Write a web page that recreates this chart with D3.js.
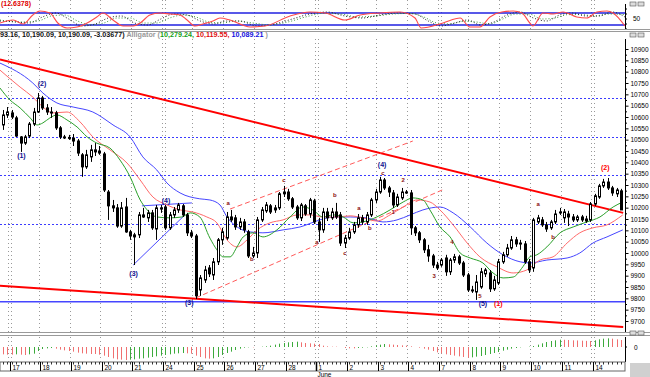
<!DOCTYPE html>
<html>
<head>
<meta charset="utf-8">
<script src="https://cdnjs.cloudflare.com/ajax/libs/d3/7.8.5/d3.min.js"></script>
<style>
  body { margin: 0; background: #fff; }
  svg { display: block; font-family: "Liberation Sans", Arial, sans-serif; }
</style>
</head>
<body>
<svg id="chart" width="650" height="377"></svg>
<script>
// hourly bars, May 14 (last two) .. June 14
var opens = [10565,10609,10618,10596,10512,10485,10516,10569,10622,10684,
  10640,10622,10618,10552,10512,10510,10507,10494,10433,10380,
  10424,10446,10450,10437,10269,10208,10199,10119,10203,10093,
  10071,10080,10168,10155,10177,10106,10199,10203,10111,10168,
  10190,10208,10168,10089,10075,9837,9881,9934,9903,9961,
  10058,10066,10159,10155,10115,10137,10093,9987,10000,10146,
  10186,10208,10190,10199,10261,10269,10239,10203,10155,10208,
  10172,10230,10137,10102,10181,10155,10181,10168,10044,10066,
  10093,10124,10155,10137,10168,10234,10269,10322,10287,10265,
  10212,10243,10269,10265,10111,10089,10058,10014,9987,9947,
  9947,9978,9917,9969,9983,9956,9903,9837,9828,9850,
  9908,9912,9842,9868,9961,9992,10022,10058,10040,10040,
  9961,9934,10137,10146,10124,10111,10137,10177,10155,10172,
  10159,10146,10159,10150,10146,10216,10247,10296,10313,10287,
  10261,10274];
var highs = [10631,10644,10631,10605,10516,10521,10578,10640,10706,10693,
  10657,10644,10627,10560,10521,10521,10525,10503,10441,10455,
  10477,10485,10472,10446,10278,10234,10216,10225,10243,10102,
  10089,10181,10199,10190,10190,10212,10212,10212,10181,10203,
  10221,10216,10177,10102,10084,9903,9943,9947,9978,10066,
  10111,10181,10190,10168,10155,10150,10102,10027,10159,10203,
  10225,10216,10212,10269,10296,10283,10247,10212,10221,10216,
  10243,10239,10155,10199,10199,10199,10221,10181,10080,10111,
  10137,10172,10168,10181,10243,10283,10336,10331,10296,10278,
  10261,10287,10278,10278,10119,10097,10066,10036,9996,9961,
  9978,9992,9978,9996,9992,9965,9912,9855,9903,9934,
  9934,9925,9899,9974,10005,10040,10075,10071,10058,10053,
  9974,10155,10168,10159,10137,10146,10190,10199,10194,10186,
  10172,10168,10168,10164,10225,10261,10305,10327,10331,10296,
  10287,10283];
var lows = [10543,10596,10591,10512,10446,10477,10507,10560,10618,10631,
  10609,10596,10543,10503,10503,10499,10472,10428,10336,10371,
  10402,10428,10433,10269,10146,10181,10111,10111,10089,10058,
  9947,10066,10155,10137,10102,10058,10177,10102,10102,10155,
  10177,10159,10075,10066,9797,9811,9868,9894,9881,9947,
  10036,10058,10137,10102,10102,10089,9978,9978,9978,10137,
  10177,10172,10177,10190,10247,10230,10194,10146,10141,10164,
  10155,10128,10049,10089,10141,10146,10150,10031,10022,10058,
  10084,10111,10124,10124,10159,10221,10261,10278,10247,10199,
  10203,10234,10261,10080,10075,10044,10000,9961,9934,9925,
  9939,9899,9903,9956,9947,9894,9828,9824,9793,9842,
  9894,9828,9833,9859,9952,9983,10014,10027,10014,9952,
  9912,9917,10128,10115,10093,10102,10128,10168,10133,10119,
  10137,10137,10137,10133,10137,10208,10239,10287,10278,10252,
  10247,10194];
var closes = [10609,10622,10600,10516,10485,10512,10569,10622,10684,10640,
  10622,10618,10552,10512,10510,10507,10494,10441,10380,10433,
  10455,10455,10441,10278,10208,10199,10119,10199,10093,10075,
  10080,10168,10159,10177,10111,10199,10194,10111,10168,10190,
  10212,10168,10089,10075,9811,9890,9925,9908,9961,10058,
  10093,10159,10146,10115,10137,10102,9987,10000,10146,10190,
  10212,10181,10199,10261,10269,10239,10203,10155,10212,10172,
  10234,10137,10102,10181,10155,10181,10159,10044,10066,10093,
  10124,10155,10137,10168,10234,10269,10322,10287,10269,10212,
  10247,10269,10265,10111,10089,10058,10014,9987,9947,9934,
  9969,9917,9969,9983,9956,9903,9837,9835,9872,9917,
  9925,9842,9881,9961,9992,10022,10058,10040,10044,9961,
  9925,10146,10155,10124,10106,10137,10172,10181,10181,10159,
  10146,10159,10146,10141,10216,10252,10296,10313,10287,10265,
  10278,10190];

// alligator lines, [bar, price]
var jaw = [[-0.7,10838],[6.8,10750],[9.1,10706],[12.3,10662],[16,10644],[20.5,10622],[25.1,10565],
  [29,10512],[31.9,10424],[35.1,10366],[37.4,10309],[40.4,10265],[44.9,10239],[47.2,10234],[49.5,10212],
  [51.1,10159],[53.4,10115],[56.4,10093],[59.3,10089],[63.9,10102],[67.8,10115],[72.3,10146],[75.3,10159],
  [79.2,10159],[83,10155],[86.7,10137],[89.9,10146],[92.9,10168],[95.8,10190],[99.7,10203],[102.7,10177],
  [106.6,10115],[110.4,10044],[114.1,9992],[118,9961],[120.2,9956],[124.1,9969],[128.7,9978],[131.6,10000],
  [134.6,10044],[137.8,10071],[141.4,10102]];
var teeth = [[-0.7,10807],[3.9,10732],[6.8,10688],[9.1,10644],[11.4,10618],[14.6,10622],[17.6,10578],
  [20.5,10512],[24.4,10455],[28.3,10397],[31.3,10322],[34.2,10247],[37.4,10212],[40.4,10190],[43.3,10181],
  [46.5,10159],[48.8,10133],[51.1,10058],[53.4,10027],[55.7,10058],[58,10102],[60.9,10133],[63.9,10146],
  [67.1,10168],[70,10168],[73,10159],[76.2,10159],[79.2,10164],[82.1,10155],[85.3,10141],[88.3,10168],
  [91.3,10203],[94.5,10234],[97.4,10225],[99.7,10190],[102.7,10124],[105.9,10044],[108.8,9983],[112.7,9939],
  [116.4,9912],[119.5,9925],[122.5,9969],[125.5,9983],[128.7,10044],[131.6,10089],[134.6,10111],
  [137.8,10124],[141.4,10168]];
var lips = [[-0.7,10728],[1.6,10675],[3.9,10640],[6.2,10596],[7.8,10565],[9.1,10574],[10.7,10596],
  [12.3,10609],[14.6,10587],[16.9,10556],[19.2,10512],[21.4,10485],[24.4,10463],[26.7,10410],[29,10336],
  [31.3,10234],[32.9,10190],[35.1,10159],[38.1,10155],[40.8,10159],[42.7,10177],[44.9,10159],[47.2,10066],
  [48.8,10014],[50.2,9983],[51.8,9983],[53.4,10027],[54.8,10071],[57,10089],[59.3,10071],[62.5,10102],
  [65.5,10159],[68.4,10203],[70.7,10190],[73,10159],[75.3,10168],[77.6,10159],[79.9,10133],[82.1,10137],
  [85.3,10159],[88.3,10190],[91.3,10225],[93.5,10243],[95.8,10234],[97.4,10190],[99.7,10115],[102,10071],
  [104.3,10000],[106.6,9978],[109.5,9956],[111.8,9912],[114.1,9890],[116.4,9894],[118.6,9939],[120.2,9983],
  [121.8,9992],[124.1,10027],[127.1,10089],[130.1,10115],[133.2,10137],[136.2,10159],[139.2,10203],
  [141.4,10225]];

// top oscillator, [bar, value]
var oscMain = [[-0.7,30],[2.3,45],[4.6,25],[6.8,70],[8.4,90],[10.7,80],[12.5,30],[14.6,5],[16.9,10],
  [19.2,30],[21.4,60],[22.8,80],[25.1,45],[27.4,15],[29.7,15],[31.3,30],[33.5,70],[35.8,80],[38.1,75],
  [40.4,70],[42,45],[43.8,15],[45.6,25],[47.9,40],[49.5,55],[51.8,45],[56.4,10],[59.8,15],[65.5,65],
  [70,85],[73.5,80],[78,45],[81.5,70],[86,80],[90.6,85],[94,55],[95.4,5],[100.4,30],[104.3,55],
  [106.5,10],[108.8,10],[111.1,60],[113.8,85],[116.4,90],[118.4,80],[120.2,30],[120.9,15],[123.2,80],
  [125.5,75],[127.8,85],[130.9,60],[133.2,55],[135.5,85],[137.8,90],[139.2,80],[141.9,15]];
var oscSignal = [[-0.7,40],[3,35],[6,30],[9,60],[12,80],[15,50],[18,15],[21,25],[24,55],[27,65],[30,30],
  [33,20],[36,50],[39,75],[42,70],[45,40],[48,25],[51,40],[54,40],[58,15],[62,25],[66,50],[70,75],[74,85],
  [78,65],[82,55],[86,70],[90,80],[94,75],[97,40],[100,15],[103,30],[106,45],[109,20],[112,35],[115,70],
  [118,85],[121,55],[124,40],[127,70],[130,80],[133,65],[136,65],[139,85],[141.9,60]];
var oscSlow = [[-0.7,45],[4,35],[8,40],[11,65],[14,70],[17,40],[20,20],[23,30],[26,55],[29,55],[32,30],
  [35,30],[38,55],[41,70],[44,60],[47,35],[50,30],[53,40],[57,30],[61,20],[65,35],[69,60],[73,78],[77,75],
  [81,60],[85,65],[89,75],[93,78],[96,60],[99,30],[102,25],[105,38],[108,35],[111,25],[114,50],[117,75],
  [120,75],[123,50],[126,55],[129,72],[132,72],[135,65],[138,75],[141.9,72]];

// bottom histogram, one value per bar
var histo = [-110,-115,-115,-110,-115,-120,-110,-100,-60,-30,
  -20,-15,-25,-40,-50,-60,-70,-85,-95,-100,
  -105,-105,-115,-130,-150,-170,-185,-190,-195,-190,
  -185,-175,-170,-160,-150,-140,-130,-120,-110,-100,
  -95,-90,-95,-100,-130,-150,-170,-175,-170,-150,
  -120,-90,-70,-45,-25,-10,-5,-5,0,5,
  10,20,35,50,60,70,75,80,70,60,
  55,50,45,20,10,5,5,0,-15,-20,
  -20,-15,-10,-5,10,25,35,45,40,35,
  30,25,20,10,0,-10,-25,-40,-60,-80,
  -95,-110,-120,-130,-140,-150,-160,-155,-145,-135,
  -120,-105,-90,-75,-55,-40,-25,-15,-5,0,
  5,15,35,55,75,90,100,110,108,105,
  100,98,95,92,90,100,115,125,130,125,
  115,105];

var dayLabels = ["17","18","19","20","21","24","25","26","27","28","1","2","3","4","7","8","9","10","11","14"];
var weekStarts = ["17","24","1","7","14"];
var priceTicks = d3.range(9700, 10901, 50);
var levelsDotted = [10684, 10512, 10342, 10128];
var levelSolid = 9785;

// trend lines [bar, price]
var trendUpper = [[-0.7,10854],[141.5,10177]];
var trendLower = [[-0.7,9855],[141.5,9674]];
var chanUpper = [[51.8,10194],[93.5,10494]];
var chanLower = [[44,9802],[100.2,10278]];
var triLower = [[29.7,9947],[41.5,10168]];
var triUpper = [[31.7,10208],[43.1,10221]];

// wave counts: [bar, price, text, kind]
var waveLabels = [
  [4.2,10418,"(1)","major"],[8.9,10735,"(2)","major"],[29.8,9900,"(3)","major"],[37.2,10220,"(4)","major"],
  [42.5,9770,"(3)","major"],[86.5,10380,"(4)","major"],[109.5,9765,"(5)","major"],
  [113,9765,"(1)","red"],[137.4,10368,"(2)","red"],
  [51.4,10212,"a","minor"],[56.8,9965,"b","minor"],[64.1,10313,"c","minor"],[71.6,10040,"a","minor"],
  [75.7,10245,"b","minor"],[78,9990,"c","minor"],[81.2,10190,"a","minor"],[83.7,10102,"b","minor"],
  [86.7,10345,"c","minor"],[91.3,10313,"2","minor"],[89,10170,"1","minor"],[98.4,9890,"3","minor"],
  [102.4,10040,"4","minor"],[108.8,9800,"5","minor"],[122.1,10208,"a","minor"],[125.5,10062,"b","minor"]
];

var svg = d3.select("#chart");
var plotR = 625;

var x = d3.scaleLinear().domain([0, 141]).range([3, 621]);
var y = d3.scaleLinear().domain([9700, 10900]).range([321, 49]);
var yOsc = d3.scaleLinear().domain([0, 100]).range([29, 9]);
var yHist = d3.scaleLinear().domain([-225, 180]).range([362, 335]);

// ---- vertical day grid through every panel
var grid = svg.append("g");
dayLabels.forEach(function (d, k) {
  var gx = Math.round(x(1.2 + 7 * k)) + 0.5;
  var xs = weekStarts.indexOf(d) >= 0 ? [gx, gx + 3] : [gx];
  xs.forEach(function (xx) {
    [[0, 29], [39, 332], [337, 362]].forEach(function (seg) {
      grid.append("line").attr("x1", xx).attr("x2", xx).attr("y1", seg[0]).attr("y2", seg[1])
        .attr("stroke", "#999").attr("stroke-dasharray", "1,3");
    });
  });
});

// ---- top oscillator panel
var oscG = svg.append("g");
[80, 20].forEach(function (v) {
  oscG.append("line").attr("x1", 0).attr("x2", plotR).attr("y1", yOsc(v)).attr("y2", yOsc(v))
    .attr("stroke", "#2020e0").attr("stroke-width", 1.3);
});
var oscLine = d3.line().x(function (d) { return x(d[0]); }).y(function (d) { return yOsc(d[1]); })
  .curve(d3.curveMonotoneX);
oscG.append("path").datum(oscSlow).attr("d", oscLine).attr("fill", "none")
  .attr("stroke", "#3a9a3a").attr("stroke-dasharray", "1,2");
oscG.append("path").datum(oscSignal).attr("d", oscLine).attr("fill", "none")
  .attr("stroke", "#202020").attr("stroke-dasharray", "1,2");
oscG.append("path").datum(oscMain).attr("d", oscLine).attr("fill", "none")
  .attr("stroke", "#ff4a4a").attr("stroke-width", 1.1);
oscG.append("text").attr("x", 1).attr("y", 6).attr("font-size", 7).attr("font-weight", "bold")
  .attr("fill", "#e00000").text("(12.6378)");
oscG.append("line").attr("x1", plotR + 0.5).attr("x2", plotR + 0.5).attr("y1", 4).attr("y2", 29)
  .attr("stroke", "#000");
[0, 25, 50, 75, 100].forEach(function (v) {
  oscG.append("line").attr("x1", plotR).attr("x2", plotR + 2).attr("y1", yOsc(v)).attr("y2", yOsc(v)).attr("stroke", "#000");
});
oscG.append("text").attr("x", 633).attr("y", 21).attr("font-size", 6.5).text("50");

// panel separators
[29.5, 31.5, 332.5, 335.5].forEach(function (yy) {
  svg.append("line").attr("x1", 0).attr("x2", 650).attr("y1", yy).attr("y2", yy).attr("stroke", "#9a9a9a");
});
[2, 33, 331].forEach(function (p) {
  svg.append("rect").attr("x", 630).attr("y", p).attr("width", 6).attr("height", 4)
    .attr("fill", "#ddd").attr("stroke", "#555").attr("stroke-width", 0.6);
  svg.append("rect").attr("x", 638).attr("y", p).attr("width", 6).attr("height", 4)
    .attr("fill", "#ddd").attr("stroke", "#555").attr("stroke-width", 0.6);
});

// header text of the price panel
var hdr = svg.append("text").attr("x", 0).attr("y", 37).attr("font-size", 7.2).attr("font-weight", "bold");
hdr.append("tspan").attr("fill", "#111").text("93.16, 10,190.09, 10,190.09, -3.03677)  ");
hdr.append("tspan").attr("fill", "#999").text("Alligator (");
hdr.append("tspan").attr("fill", "#16a016").text("10,279.24, ");
hdr.append("tspan").attr("fill", "#e01010").text("10,119.55, ");
hdr.append("tspan").attr("fill", "#1010e0").text("10,089.21");
hdr.append("tspan").attr("fill", "#999").text(" )");

// ---- main price panel
svg.append("clipPath").attr("id", "clipMain").append("rect")
  .attr("x", 0).attr("y", 39).attr("width", plotR).attr("height", 293);
var main = svg.append("g").attr("clip-path", "url(#clipMain)");

levelsDotted.forEach(function (v) {
  main.append("line").attr("x1", 0).attr("x2", plotR).attr("y1", Math.round(y(v)) + 0.5).attr("y2", Math.round(y(v)) + 0.5)
    .attr("stroke", "#3b3bff").attr("stroke-dasharray", "2,2");
});
main.append("line").attr("x1", 0).attr("x2", plotR).attr("y1", y(levelSolid)).attr("y2", y(levelSolid))
  .attr("stroke", "#4646ff").attr("stroke-width", 1.3);

var seg = d3.line().x(function (d) { return x(d[0]); }).y(function (d) { return y(d[1]); });
var smooth = d3.line().x(function (d) { return x(d[0]); }).y(function (d) { return y(d[1]); })
  .curve(d3.curveMonotoneX);

main.append("path").datum(trendUpper).attr("d", seg).attr("stroke", "#f00").attr("stroke-width", 2).attr("fill", "none");
main.append("path").datum(trendLower).attr("d", seg).attr("stroke", "#f00").attr("stroke-width", 2).attr("fill", "none");
[chanUpper, chanLower].forEach(function (c) {
  main.append("path").datum(c).attr("d", seg).attr("stroke", "#ff5a5a").attr("stroke-dasharray", "5,3").attr("fill", "none");
});
[triLower, triUpper].forEach(function (c) {
  main.append("path").datum(c).attr("d", seg).attr("stroke", "#4a4aff").attr("fill", "none");
});

[[jaw, "#4646ff"], [teeth, "#ff6a6a"], [lips, "#2aa02a"]].forEach(function (l) {
  main.append("path").datum(l[0]).attr("d", smooth).attr("stroke", l[1]).attr("fill", "none");
});

// candles
var bars = main.selectAll("g.bar").data(d3.range(closes.length)).enter().append("g").attr("class", "bar");
bars.append("line")
  .attr("x1", function (i) { return Math.round(x(i)) + 0.5; })
  .attr("x2", function (i) { return Math.round(x(i)) + 0.5; })
  .attr("y1", function (i) { return y(highs[i]); })
  .attr("y2", function (i) { return y(lows[i]); })
  .attr("stroke", "#000");
bars.append("rect")
  .attr("x", function (i) { return Math.round(x(i)) - 0.5; })
  .attr("width", 2)
  .attr("y", function (i) { return y(Math.max(opens[i], closes[i])); })
  .attr("height", function (i) { return Math.max(1, Math.abs(y(opens[i]) - y(closes[i]))); })
  .attr("fill", function (i) { return closes[i] >= opens[i] ? "#fff" : "#000"; })
  .attr("stroke", "#000");

// wave labels
waveLabels.forEach(function (w) {
  var col = w[3] === "major" ? "#101090" : (w[3] === "red" ? "#f00" : "#8a1010");
  main.append("text").attr("x", x(w[0])).attr("y", y(w[1])).attr("text-anchor", "middle")
    .attr("font-size", w[3] === "minor" ? 6 : 7).attr("font-weight", "bold").attr("fill", col).text(w[2]);
});

// price axis on the right
var axisG = svg.append("g").attr("transform", "translate(" + (plotR + 0.5) + ",0)")
  .call(d3.axisRight(y).tickValues(priceTicks).tickSize(3).tickPadding(2).tickFormat(d3.format("d")));
axisG.select(".domain").attr("d", "M0,39V332");
axisG.selectAll("text").attr("font-size", 6.5).attr("font-family", "Liberation Sans, Arial, sans-serif").attr("fill", "#000");
svg.append("g").attr("transform", "translate(" + (plotR + 0.5) + ",0)")
  .call(d3.axisRight(y).tickValues(priceTicks.slice(0, -1).map(function (v) { return v + 25; })).tickSize(1.5).tickFormat(""))
  .select(".domain").remove();

// ---- bottom histogram panel
var hist = svg.append("g");
hist.selectAll("line.h").data(histo).enter().append("line")
  .attr("x1", function (d, i) { return Math.round(x(i)) + 0.5; })
  .attr("x2", function (d, i) { return Math.round(x(i)) + 0.5; })
  .attr("y1", yHist(0))
  .attr("y2", function (d) { return yHist(d); })
  .attr("stroke", function (d, i) { return (i > 0 && d > histo[i - 1]) ? "#3caa3c" : "#f07070"; });
hist.append("line").attr("x1", plotR + 0.5).attr("x2", plotR + 0.5).attr("y1", 337).attr("y2", 362).attr("stroke", "#000");
hist.append("line").attr("x1", plotR).attr("x2", plotR + 2).attr("y1", yHist(0)).attr("y2", yHist(0)).attr("stroke", "#000");
hist.append("text").attr("x", 634).attr("y", 350).attr("font-size", 6.5).text("0");

// ---- time axis
var tAxis = svg.append("g");
tAxis.append("rect").attr("x", 0).attr("y", 362).attr("width", plotR).attr("height", 9).attr("fill", "#fff")
  .attr("stroke", "#666");
d3.range(closes.length).forEach(function (i) {
  var tx = Math.round(x(i)) + 0.5;
  tAxis.append("line").attr("x1", tx).attr("x2", tx).attr("y1", 362).attr("y2", 364.5).attr("stroke", "#333");
});
dayLabels.forEach(function (d, k) {
  var tx = Math.round(x(1.5 + 7 * k)) + 0.5;
  tAxis.append("line").attr("x1", tx).attr("x2", tx).attr("y1", 362).attr("y2", 371)
    .attr("stroke", "#000").attr("stroke-width", d === "1" ? 1.5 : 1);
  tAxis.append("text").attr("x", tx + 2).attr("y", 369.5).attr("font-size", 6.5).text(d);
});
tAxis.append("text").attr("x", x(71.5) + 1).attr("y", 376.5).attr("font-size", 6.5).text("June");
svg.append("rect").attr("x", 630).attr("y", 363).attr("width", 20).attr("height", 14).attr("fill", "#d0d0d0");
</script>
</body>
</html>
